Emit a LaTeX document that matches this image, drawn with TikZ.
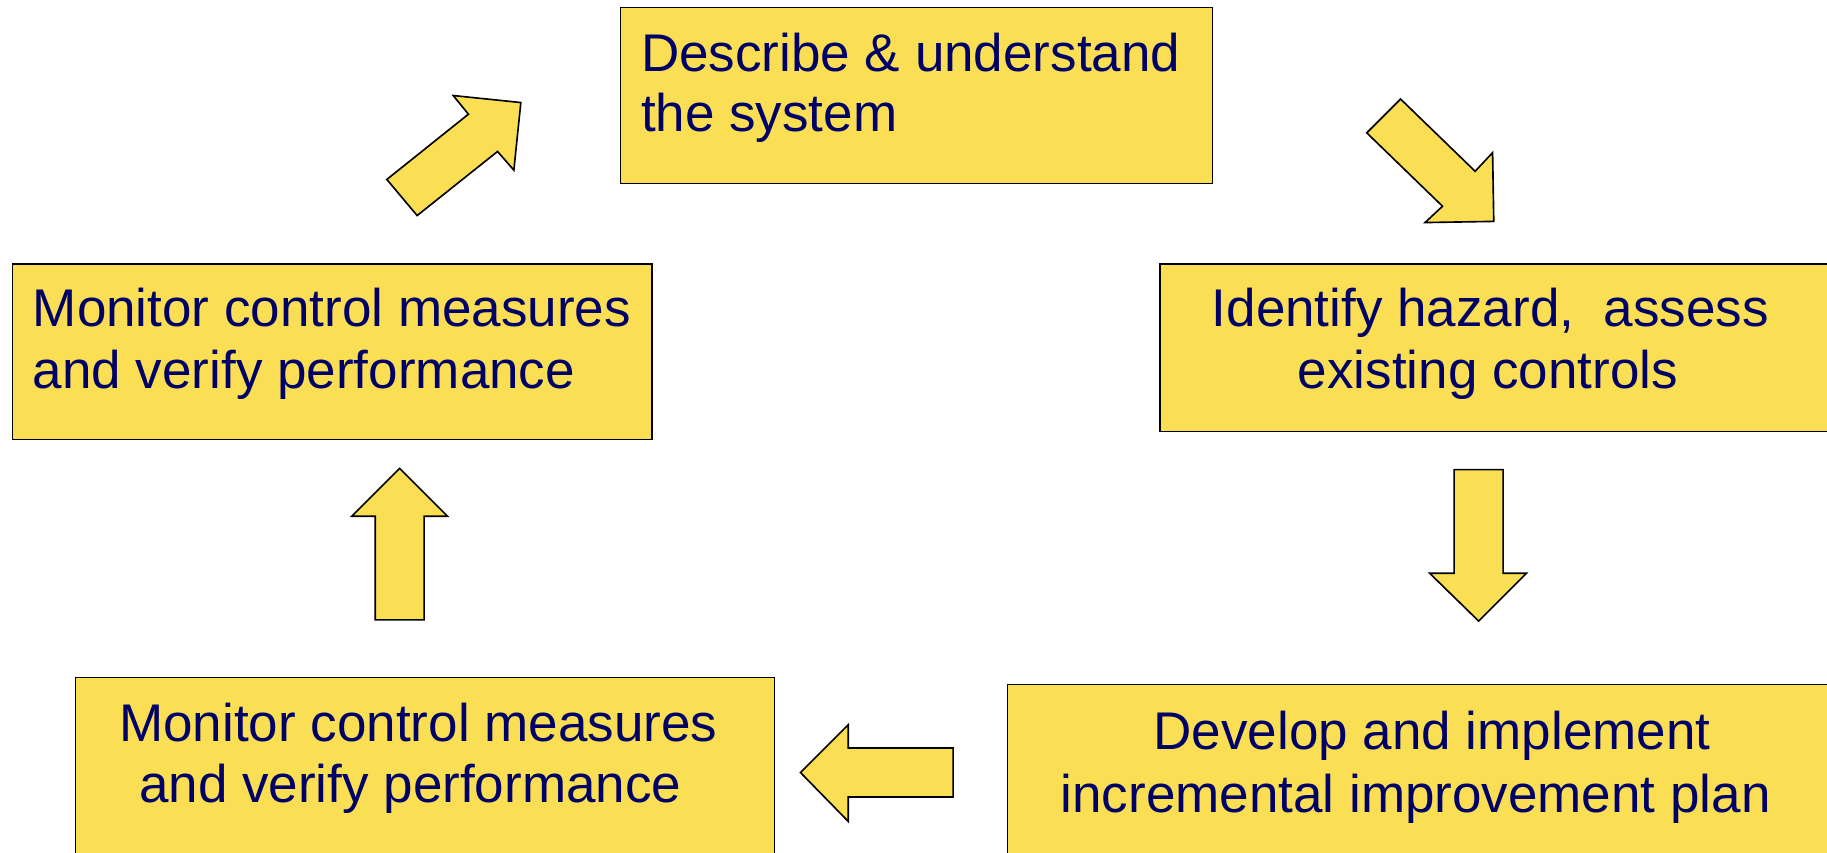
\documentclass[tikz,border=0pt]{standalone}
\usepackage{fontspec}
\setmainfont{Liberation Sans}
\definecolor{boxfill}{RGB}{250,223,85}
\definecolor{txt}{RGB}{0,0,102}
\begin{document}
\begin{tikzpicture}[x=1pt,y=-1pt,
  box/.style={draw=black, line width=1pt, fill=boxfill, inner sep=0pt, anchor=north west},
  lbl/.style={text=txt, font=\fontsize{45.5}{52}\selectfont, inner sep=0pt},
  blk/.style={draw=black, line width=1.4pt, fill=boxfill, line join=miter}]
\useasboundingbox (0,0) rectangle (1568,732);
\clip (0,0) rectangle (1568,732);
% boxes
\node[box, minimum width=508pt, minimum height=151pt] (describe) at (532,6) {};
\node[box, minimum width=549pt, minimum height=151pt] (monitorA) at (10,226) {};
\node[box, minimum width=620pt, minimum height=144pt] (identify) at (995,226) {};
\node[box, minimum width=600pt, minimum height=200pt] (monitorB) at (64,581) {};
\node[box, minimum width=760pt, minimum height=200pt] (develop) at (864,587) {};
% texts
\node[lbl, anchor=base west] (describe1) at (550,61) {Describe \& understand};
\node[lbl, anchor=base west] (describe2) at (550,113) {the system};
\node[lbl, anchor=base west] (monitorA1) at (28,280) {Monitor control measures};
\node[lbl, anchor=base west] (monitorA2) at (28,333) {and verify performance};
\node[lbl, anchor=base] (identify1) at (1279,280) {Identify hazard,\ \ assess};
\node[lbl, anchor=base] (identify2) at (1277,333) {existing controls};
\node[lbl, anchor=base] (monitorB1) at (359,636) {Monitor control measures};
\node[lbl, anchor=base] (monitorB2) at (352,689) {and verify performance};
\node[lbl, anchor=base] (develop1) at (1229,643) {Develop and implement};
\node[lbl, anchor=base] (develop2) at (1215,697) {incremental improvement plan};
% block arrows
\draw[blk] (332,154) -- (358,185) -- (427,130) -- (441,146) -- (447,88) -- (389,82) -- (402,98) -- cycle;
\draw[blk] (1173,114) -- (1202,85) -- (1266,147) -- (1281,131) -- (1282,190) -- (1223,191) -- (1238,177) -- cycle;
\draw[blk] (1248,403) -- (1290,403) -- (1290,492) -- (1310,492) -- (1269,533) -- (1227,492) -- (1248,492) -- cycle;
\draw[blk] (818,642) -- (818,684) -- (728,684) -- (728,705) -- (687,663) -- (728,622) -- (728,642) -- cycle;
\draw[blk] (322,532) -- (364,532) -- (364,443) -- (384,443) -- (343,402) -- (302,443) -- (322,443) -- cycle;
\end{tikzpicture}
\end{document}
